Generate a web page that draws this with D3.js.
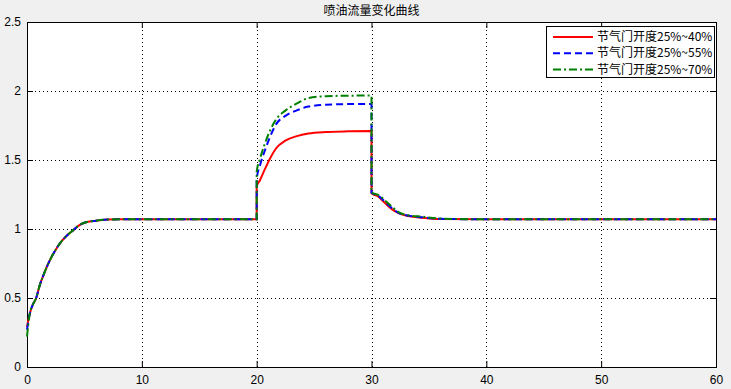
<!DOCTYPE html>
<html>
<head>
<meta charset="utf-8">
<script src="https://cdn.jsdelivr.net/npm/d3@7"></script>
<style>
  html, body { margin: 0; padding: 0; background: #f0f0f0; }
  svg { display: block; }
</style>
</head>
<body>
<div id="chart"></div>
<script>
// Time samples shared by all three series (s)
const timeVals = [0, 0.25, 0.5, 0.8, 1.1, 1.5, 2, 2.5, 3, 3.5, 4, 4.5, 5, 6, 7, 8,
  20, 20.001, 20.3, 20.7, 21.2, 21.7, 22.5, 23.5, 24.5, 26, 28, 30,
  30.001, 30.6, 31.2, 31.8, 32.4, 33.2, 34.4, 36, 40, 60];

// 节气门开度25%~40%
const red40 = [0.29, 0.39, 0.45, 0.50, 0.59, 0.68, 0.775, 0.85, 0.91, 0.955, 0.99, 1.025, 1.045, 1.06, 1.068, 1.07,
  1.07, 1.306, 1.355, 1.43, 1.517, 1.585, 1.64, 1.673, 1.692, 1.703, 1.708, 1.71,
  1.258, 1.234, 1.186, 1.142, 1.113, 1.094, 1.081, 1.072, 1.07, 1.07];
// 节气门开度25%~55%
const blue55 = [0.27, 0.39, 0.45, 0.50, 0.59, 0.68, 0.775, 0.85, 0.91, 0.955, 0.99, 1.025, 1.045, 1.06, 1.068, 1.07,
  1.07, 1.36, 1.464, 1.565, 1.675, 1.76, 1.82, 1.86, 1.887, 1.9, 1.905, 1.905,
  1.262, 1.24, 1.196, 1.15, 1.115, 1.097, 1.085, 1.074, 1.07, 1.07];
// 节气门开度25%~70%
const green70 = [0.22, 0.39, 0.45, 0.50, 0.59, 0.68, 0.775, 0.85, 0.91, 0.955, 0.99, 1.025, 1.045, 1.06, 1.068, 1.07,
  1.07, 1.415, 1.512, 1.615, 1.72, 1.795, 1.858, 1.91, 1.948, 1.962, 1.966, 1.967,
  1.265, 1.246, 1.205, 1.16, 1.12, 1.10, 1.089, 1.076, 1.07, 1.07];

const seriesNames = ['节气门开度25%~40%', '节气门开度25%~55%', '节气门开度25%~70%'];
const xTicks = [0, 10, 20, 30, 40, 50, 60];
const yTicks = [0, 0.5, 1, 1.5, 2, 2.5];
const chartTitle = '喷油流量变化曲线';

const W = 731, H = 389;
const m = { top: 22, right: 15, bottom: 22, left: 27 };
const iw = W - m.left - m.right, ih = H - m.top - m.bottom;

const styles = [
  { color: '#ff0000', dash: null },
  { color: '#0000ff', dash: '7,4' },
  { color: '#008000', dash: '8,3,2,3' }
];

const x = d3.scaleLinear().domain([0, 60]).range([0, iw]);
const y = d3.scaleLinear().domain([0, 2.5]).range([ih, 0]);

const svg = d3.select('#chart').append('svg')
  .attr('width', W).attr('height', H)
  .style('font-family', '"Liberation Sans", Arial, sans-serif');

svg.append('rect').attr('width', W).attr('height', H).attr('fill', '#f0f0f0');

const g = svg.append('g').attr('transform', `translate(${m.left},${m.top})`);
g.append('rect').attr('width', iw).attr('height', ih).attr('fill', '#fff');

// grid
g.append('g').selectAll('line').data(xTicks.slice(1, -1)).join('line')
  .attr('x1', d => Math.round(x(d)) + 0.5).attr('x2', d => Math.round(x(d)) + 0.5)
  .attr('y1', 0).attr('y2', ih)
  .attr('stroke', '#000').attr('stroke-dasharray', '1,3');
g.append('g').selectAll('line').data(yTicks.slice(1, -1)).join('line')
  .attr('y1', d => Math.round(y(d)) + 0.5).attr('y2', d => Math.round(y(d)) + 0.5)
  .attr('x1', 0).attr('x2', iw)
  .attr('stroke', '#000').attr('stroke-dasharray', '1,3');

// axes (ticks inside, mirrored on top/right)
const tl = 6;
const xAxisB = d3.axisBottom(x).tickValues(xTicks).tickSizeInner(-tl).tickSizeOuter(0).tickPadding(10);
const yAxisL = d3.axisLeft(y).tickValues(yTicks).tickSizeInner(-tl).tickSizeOuter(0).tickPadding(10)
  .tickFormat(d3.format('~g'));

const ax = g.append('g').attr('transform', `translate(0,${ih})`).call(xAxisB);
const ay = g.append('g').call(yAxisL);
g.append('g').call(d3.axisTop(x).tickValues(xTicks).tickSizeInner(-tl).tickSizeOuter(0).tickFormat(''));
g.append('g').attr('transform', `translate(${iw},0)`)
  .call(d3.axisRight(y).tickValues(yTicks).tickSizeInner(-tl).tickSizeOuter(0).tickFormat(''));

g.selectAll('.domain').remove();
g.selectAll('.tick line').attr('stroke', '#000');
[ax, ay].forEach(a => a.selectAll('text').attr('fill', '#000').style('font-size', '12px')
  .style('font-family', '"Liberation Sans", Arial, sans-serif'));
ay.selectAll('text').attr('dx', 4);
ax.selectAll('text').attr('dy', '0.55em');

g.append('rect').attr('x', 0.5).attr('y', 0.5).attr('width', iw).attr('height', ih)
  .attr('fill', 'none').attr('stroke', '#000');

// lines
const allSeries = [red40, blue55, green70];
const line = d3.line().x(d => x(d[0])).y(d => y(d[1])).curve(d3.curveMonotoneX);
allSeries.forEach((vals, i) => {
  const pts = timeVals.map((t, k) => [t, vals[k]]);
  g.append('path').datum(pts)
    .attr('d', line)
    .attr('fill', 'none')
    .attr('stroke', styles[i].color)
    .attr('stroke-width', 2)
    .attr('stroke-dasharray', styles[i].dash);
});

// title
svg.append('text')
  .attr('x', m.left + iw / 2).attr('y', 15)
  .attr('text-anchor', 'middle')
  .style('font-family', '"Noto Sans CJK SC", sans-serif')
  .style('font-size', '12px')
  .text(chartTitle);

// legend
const lg = svg.append('g').attr('transform', 'translate(546,26)');
lg.append('rect').attr('x', 0.5).attr('y', 0.5).attr('width', 168).attr('height', 51)
  .attr('fill', '#fff').attr('stroke', '#000');
seriesNames.forEach((name, i) => {
  const ry = 11 + i * 16.2;
  lg.append('line').attr('x1', 7).attr('x2', 47).attr('y1', ry).attr('y2', ry)
    .attr('stroke', styles[i].color).attr('stroke-width', 2)
    .attr('stroke-dasharray', styles[i].dash);
  lg.append('text').attr('x', 51).attr('y', ry).attr('dy', '0.35em')
    .style('font-family', '"Noto Sans CJK SC", sans-serif')
    .style('font-size', '12px')
    .text(name);
});
</script>
</body>
</html>
